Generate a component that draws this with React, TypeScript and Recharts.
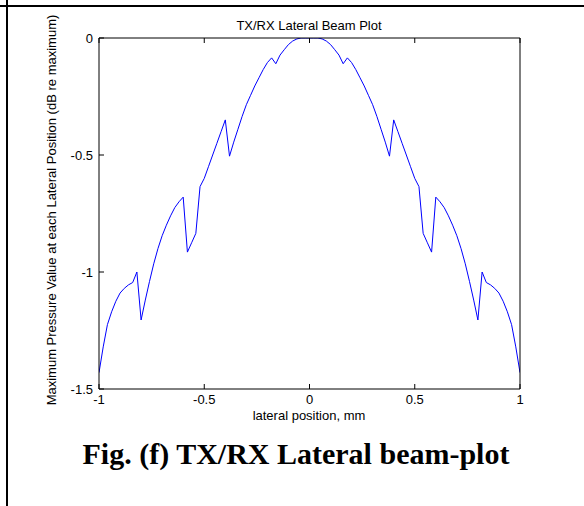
import React from "react";
import { LineChart, Line, XAxis, YAxis } from "recharts";

const xs: number[] = [
  -1.0, -0.98, -0.96, -0.94, -0.92, -0.9, -0.88, -0.86, -0.84, -0.82,
  -0.8, -0.78, -0.76, -0.74, -0.72, -0.7, -0.68, -0.66, -0.64, -0.62,
  -0.6, -0.58, -0.56, -0.54, -0.52, -0.5, -0.48, -0.46, -0.44, -0.42,
  -0.4, -0.38, -0.36, -0.34, -0.32, -0.3, -0.28, -0.26, -0.24, -0.22,
  -0.2, -0.18, -0.16, -0.14, -0.12, -0.1, -0.08, -0.06, -0.04, -0.02,
  0.0,
  0.02, 0.04, 0.06, 0.08, 0.1, 0.12, 0.14, 0.16, 0.18, 0.2,
  0.22, 0.24, 0.26, 0.28, 0.3, 0.32, 0.34, 0.36, 0.38, 0.4,
  0.42, 0.44, 0.46, 0.48, 0.5, 0.52, 0.54, 0.56, 0.58, 0.6,
  0.62, 0.64, 0.66, 0.68, 0.7, 0.72, 0.74, 0.76, 0.78, 0.8,
  0.82, 0.84, 0.86, 0.88, 0.9, 0.92, 0.94, 0.96, 0.98, 1.0,
];

const pressureDb: number[] = [
  -1.43, -1.32, -1.225, -1.17, -1.125, -1.09, -1.07, -1.055, -1.045, -1.0,
  -1.205, -1.12, -1.04, -0.965, -0.9, -0.845, -0.8, -0.76, -0.725, -0.7,
  -0.68, -0.915, -0.875, -0.835, -0.635, -0.6, -0.55, -0.5, -0.45, -0.4,
  -0.35, -0.505, -0.445, -0.39, -0.335, -0.285, -0.245, -0.205, -0.17, -0.135,
  -0.105, -0.085, -0.11, -0.073, -0.05, -0.028, -0.013, -0.004, 0, 0,
  0,
  0, 0, -0.004, -0.013, -0.028, -0.05, -0.073, -0.11, -0.085, -0.105,
  -0.135, -0.17, -0.205, -0.245, -0.285, -0.335, -0.39, -0.445, -0.505, -0.35,
  -0.4, -0.45, -0.5, -0.55, -0.6, -0.635, -0.835, -0.875, -0.915, -0.68,
  -0.7, -0.725, -0.76, -0.8, -0.845, -0.9, -0.965, -1.04, -1.12, -1.205,
  -1.0, -1.045, -1.055, -1.07, -1.09, -1.125, -1.17, -1.225, -1.32, -1.43,
];

const xTicks: number[] = [-1, -0.5, 0, 0.5, 1];
const yTicks: number[] = [0, -0.5, -1, -1.5];

const data = xs.map((x, i) => ({ x, y: pressureDb[i] }));

const sans = "'Liberation Sans', Arial, Helvetica, sans-serif";
const FS = 13;
const TICK_LEN = 5;
const X_MARGIN = 5;
const Y_MARGIN = 6;

const BottomTick = (props: any) => {
  const { x, y, payload } = props;
  const axisY = y - X_MARGIN;
  return (
    <g>
      <line x1={x} x2={x} y1={axisY} y2={axisY - TICK_LEN} stroke="#000" strokeWidth={1} />
      <text x={x} y={y} dy="0.75em" textAnchor="middle" fontSize={FS} fontFamily={sans} fill="#000">
        {String(payload.value)}
      </text>
    </g>
  );
};

const TopTick = (props: any) => {
  const { x, y } = props;
  return <line x1={x} x2={x} y1={y} y2={y + TICK_LEN} stroke="#000" strokeWidth={1} />;
};

const LeftTick = (props: any) => {
  const { x, y, payload } = props;
  const axisX = x + Y_MARGIN;
  return (
    <g>
      <line x1={axisX} x2={axisX + TICK_LEN} y1={y} y2={y} stroke="#000" strokeWidth={1} />
      <text x={x} y={y} dy="0.36em" textAnchor="end" fontSize={FS} fontFamily={sans} fill="#000">
        {String(payload.value)}
      </text>
    </g>
  );
};

const RightTick = (props: any) => {
  const { x, y } = props;
  return <line x1={x} x2={x - TICK_LEN} y1={y} y2={y} stroke="#000" strokeWidth={1} />;
};

export default function App() {
  return (
    <div
      style={{
        position: "absolute",
        left: 0,
        top: 0,
        width: 584,
        height: 506,
        background: "#fff",
        overflow: "hidden",
      }}
    >
      <div style={{ position: "absolute", left: 0, top: 4.5, width: 584, height: 2, background: "#000" }} />
      <div style={{ position: "absolute", left: 6, top: 0, width: 2, height: 506, background: "#000" }} />

      <div
        style={{
          position: "absolute",
          left: 109,
          width: 400,
          top: 18,
          textAlign: "center",
          fontFamily: sans,
          fontSize: FS,
          lineHeight: "15px",
          color: "#000",
        }}
      >
        TX/RX Lateral Beam Plot
      </div>

      <div style={{ position: "absolute", left: 0, top: 0 }}>
        <LineChart
          width={584}
          height={506}
          data={data}
          margin={{ top: 37, right: 63, bottom: 92, left: 0 }}
        >
          <XAxis
            xAxisId="b"
            type="number"
            dataKey="x"
            domain={[-1, 1]}
            ticks={xTicks}
            interval={0}
            height={25}
            tickSize={0}
            tickMargin={X_MARGIN}
            tick={<BottomTick />}
            tickLine={false}
            axisLine={{ stroke: "#000" }}
            allowDataOverflow
          />
          <XAxis
            xAxisId="t"
            orientation="top"
            type="number"
            dataKey="x"
            domain={[-1, 1]}
            ticks={xTicks}
            interval={0}
            height={1}
            tickSize={0}
            tickMargin={0}
            tick={<TopTick />}
            tickLine={false}
            axisLine={{ stroke: "#000" }}
          />
          <YAxis
            yAxisId="l"
            type="number"
            domain={[-1.5, 0]}
            ticks={yTicks}
            interval={0}
            width={99}
            tickSize={0}
            tickMargin={Y_MARGIN}
            tick={<LeftTick />}
            tickLine={false}
            axisLine={{ stroke: "#000" }}
            allowDataOverflow
          />
          <YAxis
            yAxisId="r"
            orientation="right"
            type="number"
            domain={[-1.5, 0]}
            ticks={yTicks}
            interval={0}
            width={1}
            tickSize={0}
            tickMargin={0}
            tick={<RightTick />}
            tickLine={false}
            axisLine={{ stroke: "#000" }}
          />
          <Line
            xAxisId="b"
            yAxisId="l"
            type="linear"
            dataKey="y"
            stroke="#0000ff"
            strokeWidth={1}
            dot={false}
            isAnimationActive={false}
          />
        </LineChart>
      </div>

      <div
        style={{
          position: "absolute",
          left: 109,
          width: 400,
          top: 409,
          textAlign: "center",
          fontFamily: sans,
          fontSize: FS,
          lineHeight: "13px",
          color: "#000",
        }}
      >
        lateral position, mm
      </div>

      <div
        style={{
          position: "absolute",
          left: 52,
          top: 210,
          width: 0,
          height: 0,
        }}
      >
        <div
          style={{
            position: "absolute",
            left: -250,
            top: -8,
            width: 500,
            textAlign: "center",
            transform: "rotate(-90deg)",
            fontFamily: sans,
            fontSize: FS,
            lineHeight: "16px",
            whiteSpace: "nowrap",
            color: "#000",
          }}
        >
          Maximum Pressure Value at each Lateral Position (dB re maximum)
        </div>
      </div>

      <div
        style={{
          position: "absolute",
          left: 0,
          width: 592,
          top: 436,
          textAlign: "center",
          fontFamily: "'Liberation Serif', 'Times New Roman', serif",
          fontWeight: "bold",
          fontSize: 30,
          lineHeight: "36px",
          color: "#000",
        }}
      >
        Fig. (f) TX/RX Lateral beam-plot
      </div>
    </div>
  );
}
